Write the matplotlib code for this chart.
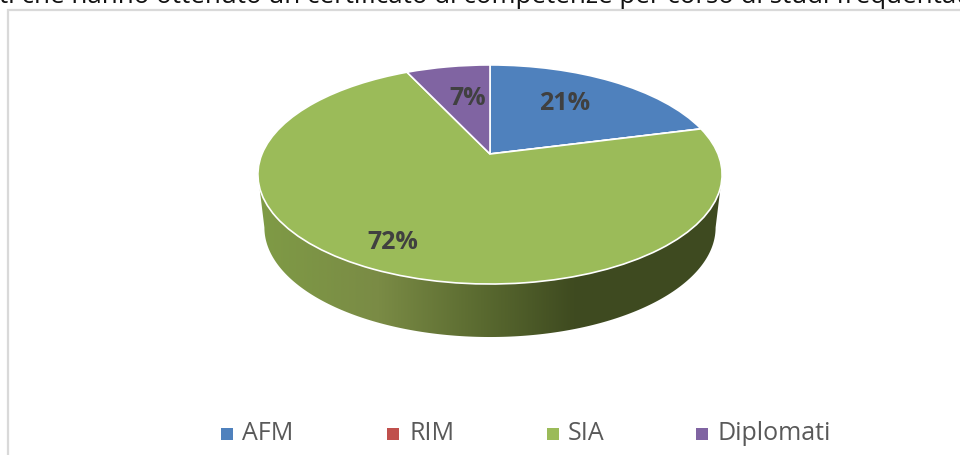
import numpy as np
import matplotlib
matplotlib.use("Agg")
import matplotlib.pyplot as plt
from matplotlib.colors import LinearSegmentedColormap
from matplotlib.patches import Polygon
from matplotlib.path import Path
from matplotlib.transforms import Transform

categories = ["AFM", "RIM", "SIA", "Diplomati"]
values = [21, 0, 72, 7]
labels = ["21%", "", "72%", "7%"]
colors = ["#4f81bd", "#c0504d", "#9bbb59", "#8064a2"]
title = "ti che hanno ottenuto un certificato di competenze per corso di studi frequentato"

# apex of the pie in the picture and the tilt of the disc
CX, CY = 490, 155
K, A, C = 228, 105.7, 0.187
DEPTH = 53


class Tilt(Transform):
    # perspective view of the flat unit pie, result in picture pixels
    input_dims = output_dims = 2

    def transform_non_affine(self, xy):
        xy = np.asarray(xy, dtype=float)
        d = 1 + C * xy[:, 1]
        return np.column_stack([CX + K * xy[:, 0] / d, CY - A * xy[:, 1] / d])

    def transform_path_non_affine(self, path):
        return Path(self.transform_non_affine(path.vertices), path.codes)


fig = plt.figure(figsize=(9.6, 4.56), dpi=100)
ax = fig.add_axes([0, 0, 1, 1])
wedges, _ = ax.pie(values, colors=colors, startangle=90, counterclock=False,
                   wedgeprops={"edgecolor": "white", "linewidth": 1.2})
ax.set_aspect("auto")
ax.set_axis_off()

tilt = Tilt()
for w in wedges:
    w.set_transform(tilt + ax.transData)
    w.set_zorder(3)

# side of the disc, from the widest point of the rim round the front
t = np.radians(np.linspace(180 + 10.8, 360 - 10.8, 200))
rim = tilt.transform(np.column_stack([np.cos(t), np.sin(t)]))
low = rim.copy()
low[:, 0] = CX + (low[:, 0] - CX) * 0.972
low[:, 1] = low[:, 1] + DEPTH
side = np.vstack([rim, low[::-1]])
patch = Polygon(side, closed=True, fc="none", ec="none")
ax.add_patch(patch)
cmap = LinearSegmentedColormap.from_list("side", [
    (0.0, "#7f9b45"), (0.26, "#7a8b45"), (0.48, "#5a6a30"),
    (0.68, "#3f4b20"), (1.0, "#3e4a20")])
img = ax.imshow(np.linspace(0, 1, 256)[None, :], cmap=cmap, aspect="auto",
                extent=(258, 722, 345, 170), zorder=2)
img.set_clip_path(patch)
ax.set_xlim(0, 960)
ax.set_ylim(456, 0)

# labels
label_pos = [(565, 104), None, (393, 243), (467.5, 98.5)]
for lab, pos in zip(labels, label_pos):
    if pos:
        ax.text(pos[0], pos[1], lab, fontsize=18, fontweight="bold", family="Open Sans",
                color="#404040", ha="center", va="center", zorder=5)

# frame of the chart, open on the right and at the bottom
ax.plot([960, 8, 8], [11, 11, 456], color="#d9d9d9", lw=1.6, zorder=1, solid_joinstyle="miter")

# legend
square_x = [226.5, 393, 552.5, 702]
text_x = [242, 409.5, 568, 717]
for name, col, sx, tx in zip(categories, colors, square_x, text_x):
    ax.plot(sx, 435, marker="s", ms=8, color=col, mew=0, zorder=5)
    ax.text(tx, 434, name, fontsize=18, family="Open Sans", color="#595959",
            ha="left", va="center", zorder=5)

ax.text(-1, 3, title, fontsize=18.6, family="Open Sans", color="#111111",
        ha="left", va="baseline", zorder=5)

fig.savefig("out.png", dpi=100)
